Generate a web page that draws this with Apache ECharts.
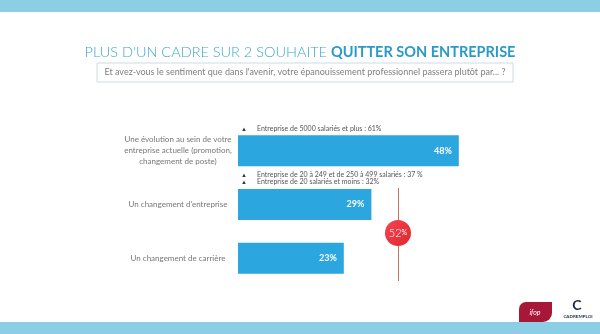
<!DOCTYPE html>
<html><head><meta charset="utf-8">
<script src="https://cdn.jsdelivr.net/npm/echarts@6/dist/echarts.min.js"></script>
<style>html,body{margin:0;padding:0;background:#fff}#c{width:600px;height:334px}</style>
</head><body><div id="c"></div>
<script>
const categories = ["Une évolution au sein de votre\nentreprise actuelle (promotion,\nchangement de poste)", "Un changement d'entreprise", "Un changement de carrière"];
const values = [48, 29, 23];
const notes = ["Entreprise de 5000 salariés et plus : 61%", "Entreprise de 20 à 249 et de 250 à 499 salariés : 37 %", "Entreprise de 20 salariés et moins : 32%"];
const totalLabel = "52";
const titleLight = "PLUS D'UN CADRE SUR 2 SOUHAITE ";
const titleBold = "QUITTER SON ENTREPRISE";
const question = "Et avez-vous le sentiment que dans l'avenir, votre épanouissement professionnel passera plutôt par... ?";

const FONT = "Lato, 'Open Sans', sans-serif";
const chart = echarts.init(document.getElementById('c'));
chart.setOption({
  animation: false,
  backgroundColor: '#fff',
  title: {left: 'center', top: 40, text: '{a|' + titleLight + '}{b|' + titleBold + '}',
    textStyle: {rich: {a: {fontSize: 14.5, fontFamily: FONT, color: '#3ea7cc', fontWeight: 300}, b: {fontSize: 14.5, fontFamily: FONT, color: '#2a9bc6', fontWeight: 'bold'}}}},
  grid: {left: 238, top: 124, width: 230, height: 161},
  xAxis: {type: 'value', min: 0, max: 50, show: false},
  yAxis: {type: 'category', data: categories, inverse: true,
    axisLine: {show: false}, axisTick: {show: false},
    axisLabel: {color: '#777', fontSize: 8, fontFamily: FONT, align: 'center', margin: 60, lineHeight: 11}},
  series: [{type: 'bar', data: values, barWidth: 31, itemStyle: {color: '#2ba6de'},
    label: {show: true, position: 'insideRight', formatter: '{c}%', color: '#fff', fontWeight: 'bold', fontSize: 9, fontFamily: FONT, offset: [-2, 0]}}],
  graphic: [
    {type: 'rect', shape: {x: 0, y: 0, width: 600, height: 12}, style: {fill: '#8ccfe4'}},
    {type: 'rect', shape: {x: 0, y: 322, width: 600, height: 12}, style: {fill: '#8ccfe4'}},
    {type: 'rect', shape: {x: 97, y: 63, width: 416, height: 19}, style: {fill: '#fff', stroke: '#c9dce6', lineWidth: 1}},
    {type: 'text', x: 305, y: 72.5, style: {text: question, fill: '#808080', fontSize: 9, fontFamily: FONT, align: 'center', verticalAlign: 'middle'}},
    {type: 'text', x: 241, y: 129, style: {text: '▲', fill: '#333', fontSize: 6, verticalAlign: 'middle'}},
    {type: 'text', x: 257, y: 129, style: {text: notes[0], fill: '#555', fontSize: 7, fontFamily: FONT, verticalAlign: 'middle'}},
    {type: 'text', x: 241, y: 175, style: {text: '▲', fill: '#333', fontSize: 6, verticalAlign: 'middle'}},
    {type: 'text', x: 257, y: 175, style: {text: notes[1], fill: '#555', fontSize: 7, fontFamily: FONT, verticalAlign: 'middle'}},
    {type: 'text', x: 241, y: 182, style: {text: '▲', fill: '#333', fontSize: 6, verticalAlign: 'middle'}},
    {type: 'text', x: 257, y: 182, style: {text: notes[2], fill: '#555', fontSize: 7, fontFamily: FONT, verticalAlign: 'middle'}},
    {type: 'line', shape: {x1: 398.5, y1: 188, x2: 398.5, y2: 281}, style: {stroke: '#c8735f', lineWidth: 1}},
    {type: 'circle', shape: {cx: 398, cy: 233, r: 13}, style: {fill: {type: 'linear', x: 0, y: 0, x2: 1, y2: 1, colorStops: [{offset: 0, color: '#f24556'}, {offset: 1, color: '#e2262a'}]}}},
    {type: 'text', x: 398, y: 233, style: {rich: {n: {fontSize: 11, fill: '#fff', fontFamily: FONT, fontWeight: 300}, p: {fontSize: 7, fill: '#fff', fontFamily: FONT}}, text: '{n|' + totalLabel + '}{p|%}', align: 'center', verticalAlign: 'middle'}},
    {type: 'rect', shape: {x: 519, y: 302, width: 33, height: 20, r: [7, 0, 9, 0]}, style: {fill: '#a81638'}},
    {type: 'text', x: 535, y: 313, style: {text: 'ifop', fill: '#fff', fontSize: 7, fontStyle: 'italic', fontFamily: FONT, align: 'center', verticalAlign: 'middle'}},
    {type: 'text', x: 577, y: 305, style: {text: 'C', fill: '#1e2a4a', fontSize: 14, fontWeight: 'bold', fontFamily: FONT, align: 'center', verticalAlign: 'middle'}},
    {type: 'text', x: 578, y: 317, style: {text: 'CADREMPLOI', fill: '#1e2a4a', fontSize: 4.5, fontWeight: 'bold', fontFamily: FONT, align: 'center', verticalAlign: 'middle'}}
  ]
});
</script></body></html>
